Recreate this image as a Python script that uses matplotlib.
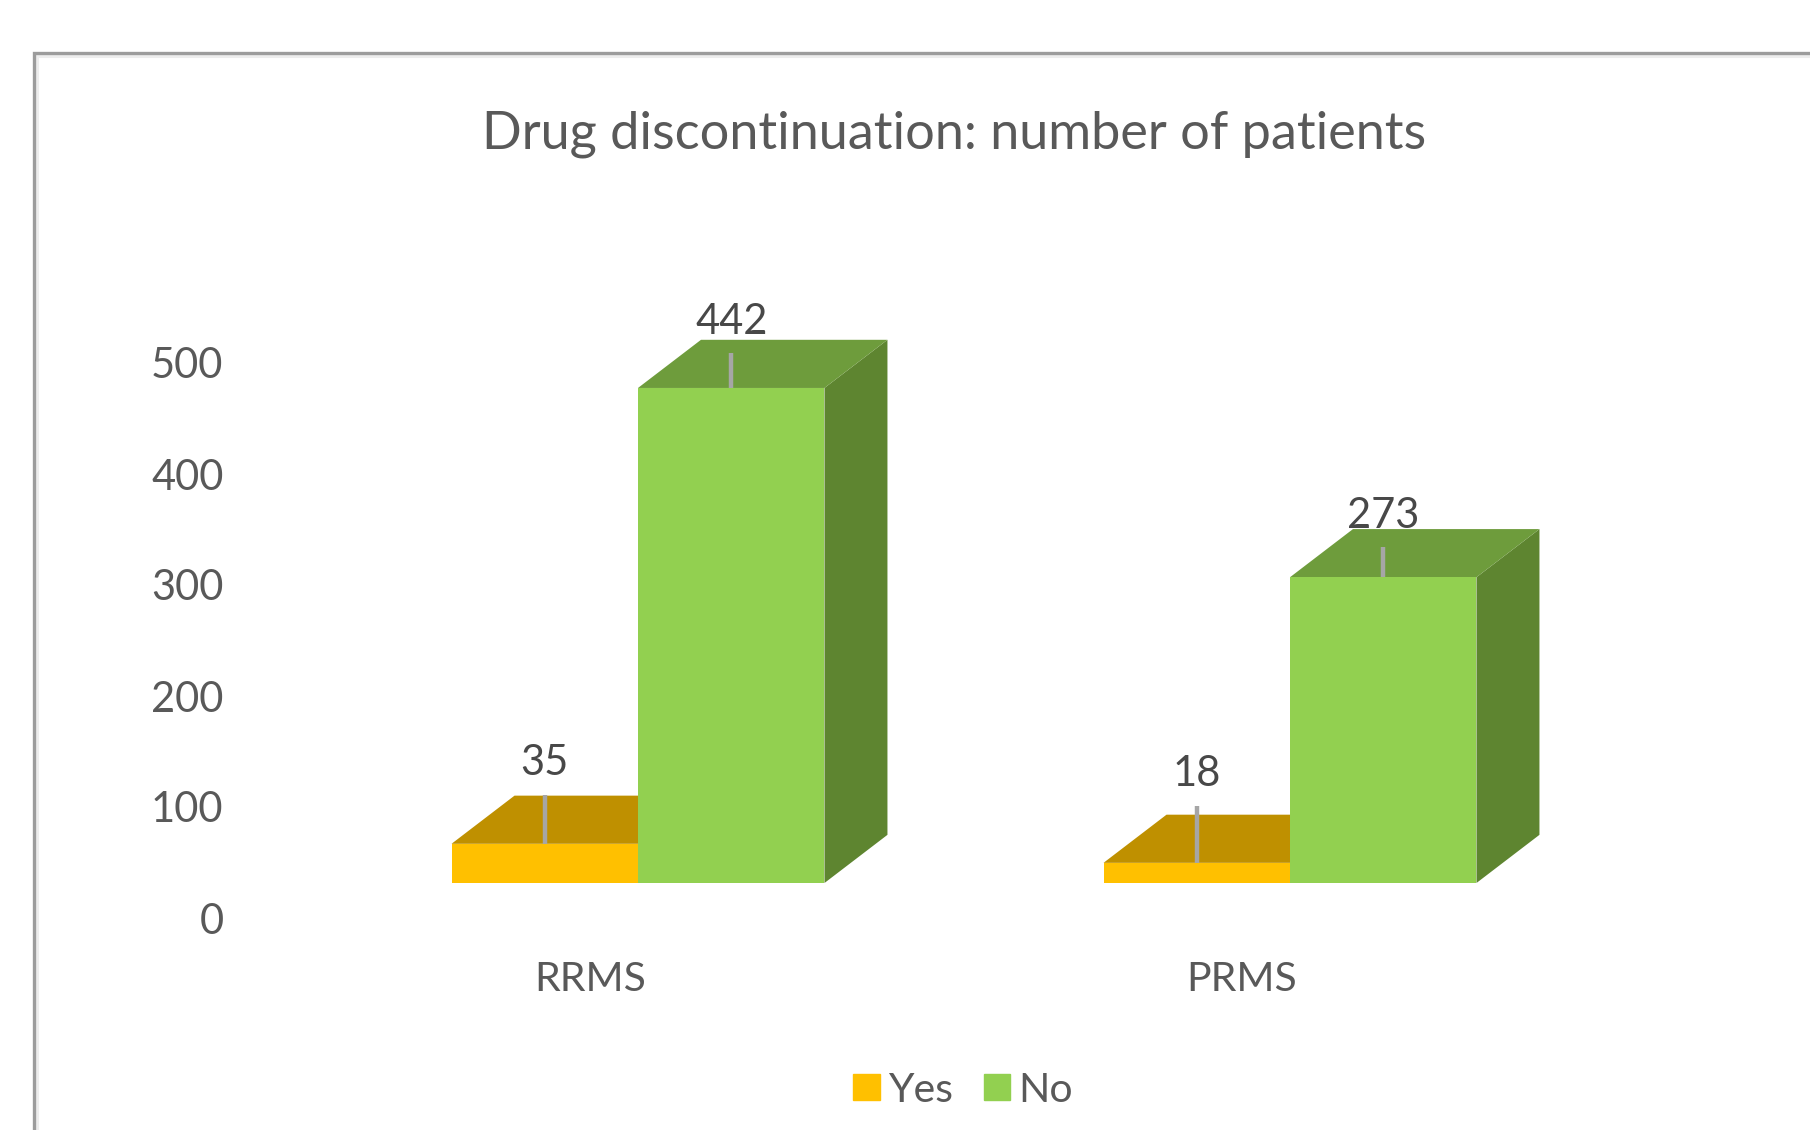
import matplotlib
matplotlib.use("Agg")
import matplotlib.pyplot as plt
from matplotlib.lines import Line2D
from matplotlib.patches import Patch

# data
categories = ["RRMS", "PRMS"]
yes_values = [35, 18]
no_values = [442, 273]
y_ticks = [0, 100, 200, 300, 400, 500]
title = "Drug discontinuation: number of patients"

# how far each data label was dragged above its bar (leader line length)
yes_leader = [44, 51]
no_leader = [31, 27]

W, H = 1810, 1130
BAR_W = 0.286
DEPTH_X = 0.0966
DEPTH_Y = 43

plt.rcParams["font.family"] = ["Lato", "DejaVu Sans"]
fig = plt.figure(figsize=(W / 100, H / 100), dpi=100)

# axis with the tick labels, it sits in front of the 3d floor
ax_t = fig.add_axes([236 / W, (H - 918) / H, (W - 236) / W, (918 - 60) / H])
ax_t.set_xlim((236 - 590) / 652, (W - 590) / 652)
ax_t.set_ylim(0, (918 - 60) / 1.11)
ax_t.set_xticks(range(len(categories)), categories)
ax_t.set_yticks(y_ticks)
ax_t.tick_params(axis="y", length=0, pad=9, labelsize=30, labelcolor="#595959")
ax_t.tick_params(axis="x", length=0, pad=31, labelsize=29.5, labelcolor="#595959")
for s in ax_t.spines.values():
    s.set_visible(False)
ax_t.patch.set_alpha(0)

# axis with the bars
ax = fig.add_axes([0, 0, 1, 1])
ax.set_xlim(-638 / 652, (W - 638) / 652)
ax.set_ylim(-(H - 883) / 1.12, 883 / 1.12)
ax.axis("off")


def bar3d(x0, value, front, top, side):
    x1 = x0 + BAR_W
    ax.fill([x1, x1 + DEPTH_X, x1 + DEPTH_X, x1],
            [0, DEPTH_Y, value + DEPTH_Y, value], color=side, lw=0)
    ax.fill([x0, x1, x1 + DEPTH_X, x0 + DEPTH_X],
            [value, value, value + DEPTH_Y, value + DEPTH_Y], color=top, lw=0)
    return ax.bar(x0, value, BAR_W, align="edge", color=front, lw=0)


for i in range(len(categories)):
    bar3d(i - BAR_W, yes_values[i], "#FFC000", "#BF9000", "#A67C00")
    bar3d(i, no_values[i], "#92D050", "#6E9C3C", "#5E8530")

    # data labels with their grey leader lines
    for x, v, lead in [(i - BAR_W / 2, yes_values[i], yes_leader[i]),
                       (i + BAR_W / 2, no_values[i], no_leader[i])]:
        ax.plot([x, x], [v, v + lead], color="#A6A6A6", lw=3.2, solid_capstyle="butt")
        ax.text(x, v + lead + 28, str(v), ha="center", va="center",
                fontsize=30, color="#484848")

fig.text(954 / W, 1 - 134 / H, title, ha="center", va="center",
         fontsize=37.6, color="#595959")

fig.legend(handles=[Patch(color="#FFC000"), Patch(color="#92D050")], labels=["Yes", "No"],
           loc="center", bbox_to_anchor=(963 / W, 1 - 1090 / H), ncols=2, frameon=False,
           fontsize=29.5, labelcolor="#595959", handlelength=0.65, handleheight=0.58,
           handletextpad=0.2, columnspacing=0.75)

# frame of the pasted chart, runs off the right and bottom edge
fig.add_artist(Line2D([36.5 / W, 36.5 / W, 1], [0, 1 - 56 / H, 1 - 56 / H],
                      color="#EDEDED", lw=2.2, solid_joinstyle="miter"))
fig.add_artist(Line2D([33.5 / W, 33.5 / W, 1], [0, 1 - 53 / H, 1 - 53 / H],
                      color="#9C9C9C", lw=2.4, solid_joinstyle="miter"))

fig.savefig("out.png", dpi=100, facecolor="white")
